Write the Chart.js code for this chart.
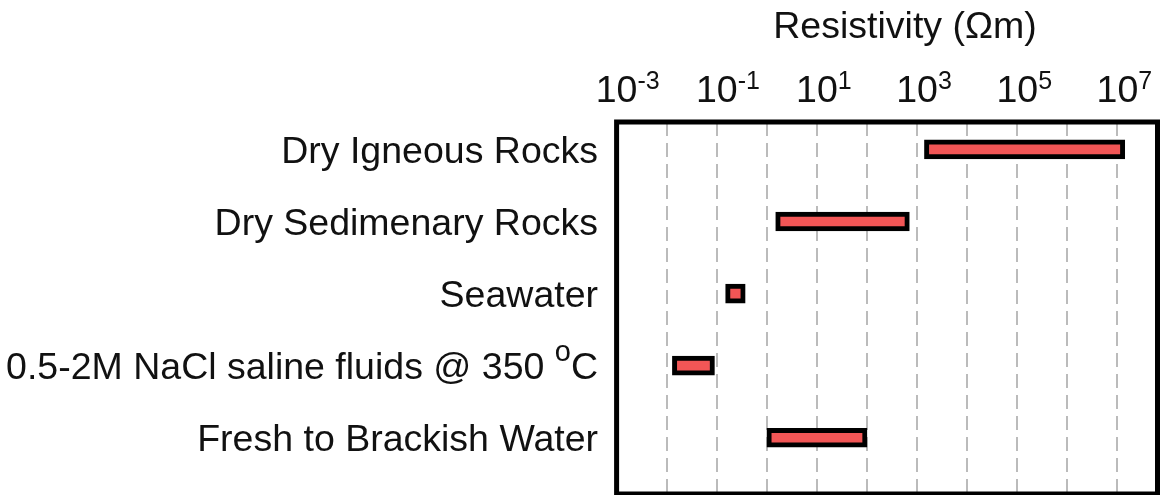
<!DOCTYPE html>
<html>
<head>
<meta charset="utf-8">
<script src="https://cdn.jsdelivr.net/npm/chart.js@4/dist/chart.umd.min.js"></script>
<style>
  html, body { margin: 0; padding: 0; background: #ffffff; }
  #wrap { width: 1162px; height: 495px; }
</style>
</head>
<body>
<div id="wrap"><canvas id="chart" width="1162" height="495"></canvas></div>
<script>
// Resistivity ranges (ohm-metres) of common rocks and fluids.
const categories = [
  'Dry Igneous Rocks',
  'Dry Sedimenary Rocks',
  'Seawater',
  '0.5-2M NaCl saline fluids @ 350 ^{o}C',
  'Fresh to Brackish Water'
];
const lowValues  = [1400, 1.5, 0.15, 0.013, 1];
const highValues = [1.4e7, 700, 0.37, 0.09, 100];

// Decade grid lines and the labelled decades along the top axis.
const gridExponents  = [-3, -2, -1, 0, 1, 2, 3, 4, 5, 6, 7];
const labelExponents = [-3, -1, 1, 3, 5, 7];
const axisTitle = 'Resistivity (\u03A9m)';

const FONT = '"Liberation Sans", Arial, Helvetica, sans-serif';
const SIZE = 37.5;

// Splits "a^{b}c" into plain and superscript runs.
function parseRich(text) {
  const parts = [];
  const re = /\^\{([^}]*)\}/g;
  let last = 0, m;
  while ((m = re.exec(text)) !== null) {
    if (m.index > last) parts.push({ t: text.slice(last, m.index), sup: false });
    parts.push({ t: m[1], sup: true });
    last = re.lastIndex;
  }
  if (last < text.length) parts.push({ t: text.slice(last), sup: false });
  return parts;
}

function measureRich(ctx, parts, size, supRatio) {
  const mainFont = size + 'px ' + FONT;
  const supFont = Math.round(size * supRatio) + 'px ' + FONT;
  let total = 0;
  parts.forEach(p => {
    p.font = p.sup ? supFont : mainFont;
    ctx.font = p.font;
    p.w = ctx.measureText(p.t).width;
    total += p.w;
  });
  return total;
}

function drawParts(ctx, parts, x, y, supRaise) {
  ctx.save();
  ctx.textAlign = 'left';
  ctx.textBaseline = 'alphabetic';
  ctx.fillStyle = '#111111';
  let cx = x;
  parts.forEach(p => {
    ctx.font = p.font;
    ctx.fillText(p.t, cx, p.sup ? y - supRaise : y);
    cx += p.w;
  });
  ctx.restore();
}

function drawRich(ctx, text, x, y, align, size, supRatio, supRaise) {
  const parts = parseRich(text);
  const total = measureRich(ctx, parts, size, supRatio);
  let cx = x;
  if (align === 'right') cx = x - total;
  else if (align === 'center') cx = x - total / 2;
  drawParts(ctx, parts, cx, y, supRaise);
}

// Frame, axis title, decade labels and row labels.
const decorations = {
  id: 'decorations',
  afterDraw(chart) {
    const { ctx, chartArea: a, scales } = chart;
    const xs = scales.x, ys = scales.y;

    ctx.save();
    ctx.strokeStyle = '#000000';
    ctx.lineWidth = 5;
    ctx.strokeRect(a.left, a.top, a.right - a.left, a.bottom - a.top);
    ctx.restore();

    drawRich(ctx, axisTitle, 905, 38, 'center', SIZE, 0.65, 13);

    // "10" sits centred on its decade, the exponent trails to the right.
    labelExponents.forEach(e => {
      const px = xs.getPixelForValue(Math.pow(10, e));
      const parts = parseRich('10^{' + e + '}');
      measureRich(ctx, parts, SIZE, 0.67);
      drawParts(ctx, parts, px - parts[0].w / 2, 102, 13);
    });

    categories.forEach((c, i) => {
      const py = ys.getPixelForValue(i);
      drawRich(ctx, c, 598, py + SIZE * 0.36, 'right', SIZE, 0.78, 18);
    });
  }
};

new Chart(document.getElementById('chart'), {
  type: 'bar',
  data: {
    datasets: [{
      label: 'Resistivity range',
      data: categories.map((c, i) => ({ x: [lowValues[i], highValues[i]], y: i })),
      backgroundColor: '#f25656',
      borderColor: '#000000',
      borderWidth: 5,
      borderSkipped: false,
      barThickness: 19
    }]
  },
  options: {
    indexAxis: 'y',
    responsive: false,
    animation: false,
    layout: { padding: { left: 616.6, top: 122, right: 4.5, bottom: 1 } },
    plugins: { legend: { display: false }, tooltip: { enabled: false } },
    scales: {
      x: {
        type: 'logarithmic',
        position: 'top',
        min: 1e-3,
        max: 6.3e7,
        z: 1,
        afterBuildTicks: s => { s.ticks = gridExponents.map(e => ({ value: Math.pow(10, e) })); },
        ticks: { display: false },
        grid: { color: 'rgba(175,175,175,0.85)', lineWidth: 2, drawTicks: false },
        border: { display: false, dash: [14, 7] }
      },
      y: {
        type: 'linear',
        reverse: true,
        offset: false,
        min: -0.38,
        max: 4.78,
        display: false
      }
    }
  },
  plugins: [decorations]
});
</script>
</body>
</html>
